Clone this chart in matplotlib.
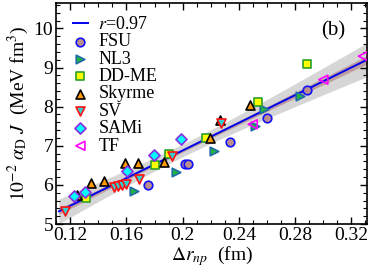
import numpy as np
import matplotlib
matplotlib.use("Agg")
import matplotlib.pyplot as plt
from matplotlib.ticker import MultipleLocator

plt.rcParams['font.family'] = 'Liberation Serif'
plt.rcParams['mathtext.fontset'] = 'stix'

# data: (Delta r_np [fm], 10^-2 alpha_D J [MeV fm^3])
fsu_x = [0.175, 0.2014, 0.2040, 0.234, 0.2597, 0.2884]
fsu_y = [6.01, 6.53, 6.53, 7.10, 7.72, 8.42]

nl3_x = [0.1651, 0.1955, 0.2226, 0.2517, 0.2581, 0.2837]
nl3_y = [5.84, 6.33, 6.87, 7.50, 7.93, 8.27]

ddme_x = [0.131, 0.1805, 0.190, 0.2163, 0.2533, 0.2887]
ddme_y = [5.67, 6.52, 6.79, 7.21, 8.12, 9.08]

sky_x = [0.1247, 0.1346, 0.144, 0.1592, 0.1684, 0.1866, 0.2196, 0.2269, 0.2481]
sky_y = [5.74, 6.05, 6.10, 6.55, 6.55, 6.58, 7.21, 7.67, 8.04]

sv_x = [0.1165, 0.151, 0.154, 0.157, 0.160, 0.169, 0.1924, 0.2274]
sv_y = [5.34, 5.96, 5.97, 5.99, 6.03, 6.14, 6.75, 7.57]

sami_x = [0.1228, 0.1306, 0.1606, 0.1795, 0.1986]
sami_y = [5.72, 5.81, 6.36, 6.76, 7.17]

tf_x = [0.2498, 0.300, 0.3282]
tf_y = [7.55, 8.69, 9.29]

r_label = '$r$=0.97'

fig = plt.figure(figsize=(3.74, 2.69), dpi=100)
ax = fig.add_axes([0.150, 0.167, 0.831, 0.822])

# linear fit to all models, with confidence bands
all_x = np.array(fsu_x + nl3_x + ddme_x + sky_x + sv_x + sami_x + tf_x)
all_y = np.array(fsu_y + nl3_y + ddme_y + sky_y + sv_y + sami_y + tf_y)
n = len(all_x)
b, a = np.polyfit(all_x, all_y, 1)
resid = all_y - (a + b * all_x)
s = np.sqrt(np.sum(resid**2) / (n - 2))
xbar = all_x.mean()
sxx = np.sum((all_x - xbar)**2)

xf = np.linspace(0.112, 0.332, 200)
yf = a + b * xf
se = s * np.sqrt(1.0 / n + (xf - xbar)**2 / sxx)
ax.fill_between(xf, yf - 4.0 * se, yf + 4.0 * se, color='#d6d6d6', lw=0, zorder=1)
ax.fill_between(xf, yf - 1.0 * se, yf + 1.0 * se, color='#b89090', alpha=0.8, lw=0, zorder=2)
ax.plot(xf, yf, color='#0000ee', lw=1.4, zorder=3, label=r_label)

ms = 38
lw = 1.2
ax.scatter(fsu_x, fsu_y, s=ms, marker='o', facecolor='#bc8f8f', edgecolor='#1010ff', lw=lw, zorder=4, label='FSU')
ax.scatter(nl3_x, nl3_y, s=ms, marker='>', facecolor='#22b43c', edgecolor='#1e6aa8', lw=lw, zorder=4, label='NL3')
ax.scatter(ddme_x, ddme_y, s=ms - 4, marker='s', facecolor='#ffff00', edgecolor='#2ca02c', lw=lw, zorder=4, label='DD-ME')
ax.scatter(sky_x, sky_y, s=ms + 4, marker='^', facecolor='#ff9a00', edgecolor='black', lw=lw, zorder=4, label='Skyrme')
ax.scatter(sv_x, sv_y, s=ms + 4, marker='v', facecolor='#30d0d0', edgecolor='#ff1010', lw=lw, zorder=4, label='SV')
ax.scatter(sami_x, sami_y, s=ms - 6, marker='D', facecolor='#00ffff', edgecolor='#8a2be2', lw=lw, zorder=4, label='SAMi')
ax.scatter(tf_x, tf_y, s=ms + 4, marker='<', facecolor='none', edgecolor='#ff00ff', lw=lw, zorder=4, label='TF')

ax.set_xlim(0.11, 0.331)
ax.set_ylim(5, 10.65)
ax.xaxis.set_major_locator(MultipleLocator(0.04))
ax.xaxis.set_minor_locator(MultipleLocator(0.01))
ax.yaxis.set_major_locator(MultipleLocator(1))
ax.yaxis.set_minor_locator(MultipleLocator(0.2))
ax.set_xticks([0.12, 0.16, 0.2, 0.24, 0.28, 0.32])
ax.set_xticklabels(['0.12', '0.16', '0.2', '0.24', '0.28', '0.32'])
ax.tick_params(which='both', direction='in', top=True, right=True, labelsize=14, pad=2)
ax.tick_params(which='major', length=5, width=1)
ax.tick_params(which='minor', length=3, width=0.8)
for sp in ax.spines.values():
    sp.set_linewidth(1.2)

ax.set_xlabel(r'$\Delta r_{np}$  (fm)', fontsize=14, labelpad=0)
ax.set_ylabel(r'$10^{-2}\ \alpha_{\rm D}\ J$  (MeV fm$^3$)', fontsize=14, labelpad=2)
ax.text(0.93, 0.855, '(b)', transform=ax.transAxes, fontsize=15, ha='right')

leg = ax.legend(loc='upper left', bbox_to_anchor=(0.02, 0.99), frameon=False, fontsize=13,
                handlelength=0.8, handletextpad=0.6, labelspacing=0.02, borderaxespad=0.2)

fig.savefig('out.png', dpi=100)
